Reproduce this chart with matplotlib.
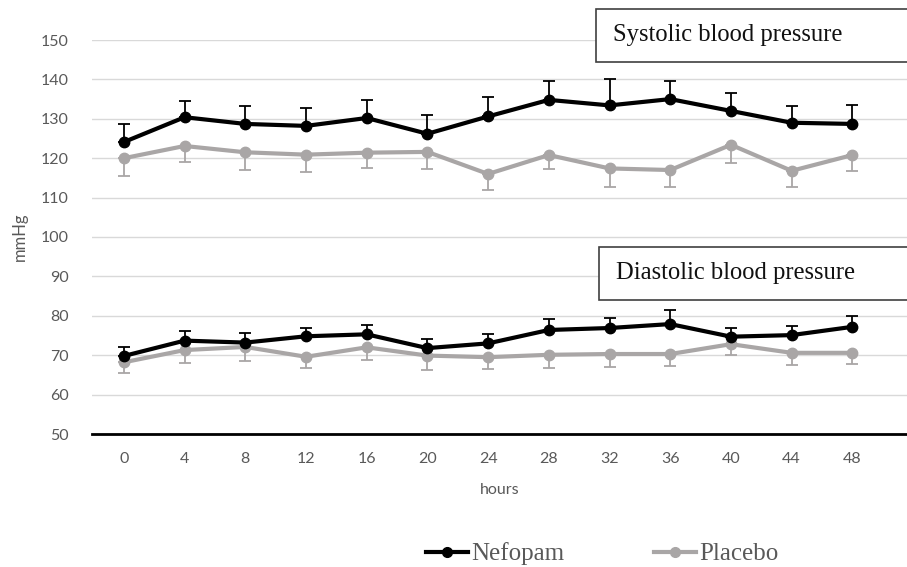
import numpy as np
import matplotlib
matplotlib.use("Agg")
import matplotlib.pyplot as plt
from matplotlib.lines import Line2D

hours = [0, 4, 8, 12, 16, 20, 24, 28, 32, 36, 40, 44, 48]

# systolic
sys_nef = [124.1, 130.4, 128.7, 128.2, 130.2, 126.2, 130.6, 134.8, 133.4, 135.0, 132.0, 129.0, 128.7]
sys_nef_sd = [4.5, 4.2, 4.6, 4.5, 4.6, 4.8, 4.9, 4.9, 6.6, 4.6, 4.6, 4.2, 4.9]
sys_pla = [120.0, 123.1, 121.5, 120.9, 121.4, 121.6, 116.0, 120.8, 117.4, 117.0, 123.4, 116.8, 120.8]
sys_pla_sd = [4.4, 4.1, 4.5, 4.4, 3.9, 4.3, 4.0, 3.6, 4.6, 4.2, 4.7, 4.0, 4.0]

# diastolic
dia_nef = [69.8, 73.7, 73.2, 74.8, 75.3, 71.8, 73.0, 76.4, 76.9, 77.9, 74.7, 75.1, 77.2]
dia_nef_sd = [2.2, 2.4, 2.5, 2.1, 2.4, 2.2, 2.5, 2.9, 2.5, 3.5, 2.3, 2.4, 2.7]
dia_pla = [68.2, 71.3, 72.1, 69.6, 72.0, 69.9, 69.5, 70.1, 70.3, 70.3, 72.8, 70.6, 70.6]
dia_pla_sd = [2.8, 3.2, 3.6, 2.8, 3.2, 3.6, 3.1, 3.3, 3.2, 3.0, 2.8, 3.2, 2.9]

black = "#000000"
gray = "#A9A6A6"
txtgray = "#595959"

fig = plt.figure(figsize=(9.07, 5.67), dpi=100)
W, H = 907, 567
ax = fig.add_axes([92 / W, 1 - 434 / H, (907 - 92) / W, (434 - 40) / H])

ax.set_xlim(-2.1, 51.6)
ax.set_ylim(50, 150)

for y, sd, c, up in [(sys_nef, sys_nef_sd, black, True), (sys_pla, sys_pla_sd, gray, False),
                     (dia_nef, dia_nef_sd, black, True), (dia_pla, dia_pla_sd, gray, False)]:
    sd = np.array(sd)
    err = [np.zeros_like(sd), sd] if up else [sd, np.zeros_like(sd)]
    ax.errorbar(hours, y, yerr=err, fmt="none", ecolor=c, elinewidth=1.3,
                capsize=4, capthick=1.3, zorder=3)
    ax.plot(hours, y, color=c, lw=3, marker="o", ms=7.5, zorder=4 if up else 3.5)

ax.set_yticks(range(50, 151, 10))
ax.set_xticks(hours)
ax.grid(axis="y", color="#D9D9D9", lw=1)
ax.set_axisbelow(True)
for s in ["top", "right", "left"]:
    ax.spines[s].set_visible(False)
ax.spines["bottom"].set_linewidth(2)
ax.spines["bottom"].set_color("#000000")
ax.tick_params(length=0, labelsize=11.5, colors=txtgray, pad=13)
ax.tick_params(axis="y", pad=17)
for lab in ax.get_xticklabels() + ax.get_yticklabels():
    lab.set_family("Lato")
ax.set_xlabel("hours", fontsize=11.5, color=txtgray, labelpad=12, family="Lato")
ax.set_ylabel("mmHg", fontsize=12, color=txtgray, labelpad=9, family="Lato")

# text boxes
for x0, y0, y1, tx, label in [(596, 9, 62, 613, "Systolic blood pressure"),
                              (599, 247, 300, 616, "Diastolic blood pressure")]:
    rect = plt.Rectangle((x0 / W, 1 - y1 / H), (W + 10 - x0) / W, (y1 - y0) / H,
                         transform=fig.transFigure, fill=True, facecolor="white",
                         edgecolor="#404040", lw=1.2, zorder=10)
    fig.add_artist(rect)
    fig.text(tx / W, 1 - (y0 + y1) / 2 / H, label, family="Liberation Serif",
             fontsize=17.7, color="#111111", va="center", ha="left", zorder=11)

handles = [Line2D([], [], color=black, lw=3, marker="o", ms=7),
           Line2D([], [], color=gray, lw=3, marker="o", ms=7)]
fig.legend(handles, ["Nefopam", "Placebo"], loc="center", bbox_to_anchor=(602 / W, 1 - 554 / H),
           ncol=2, frameon=False, handlelength=1.7, handletextpad=0.1, columnspacing=3.6,
           prop={"family": "Liberation Serif", "size": 18}, labelcolor=txtgray)

fig.savefig("out.png", dpi=100)
